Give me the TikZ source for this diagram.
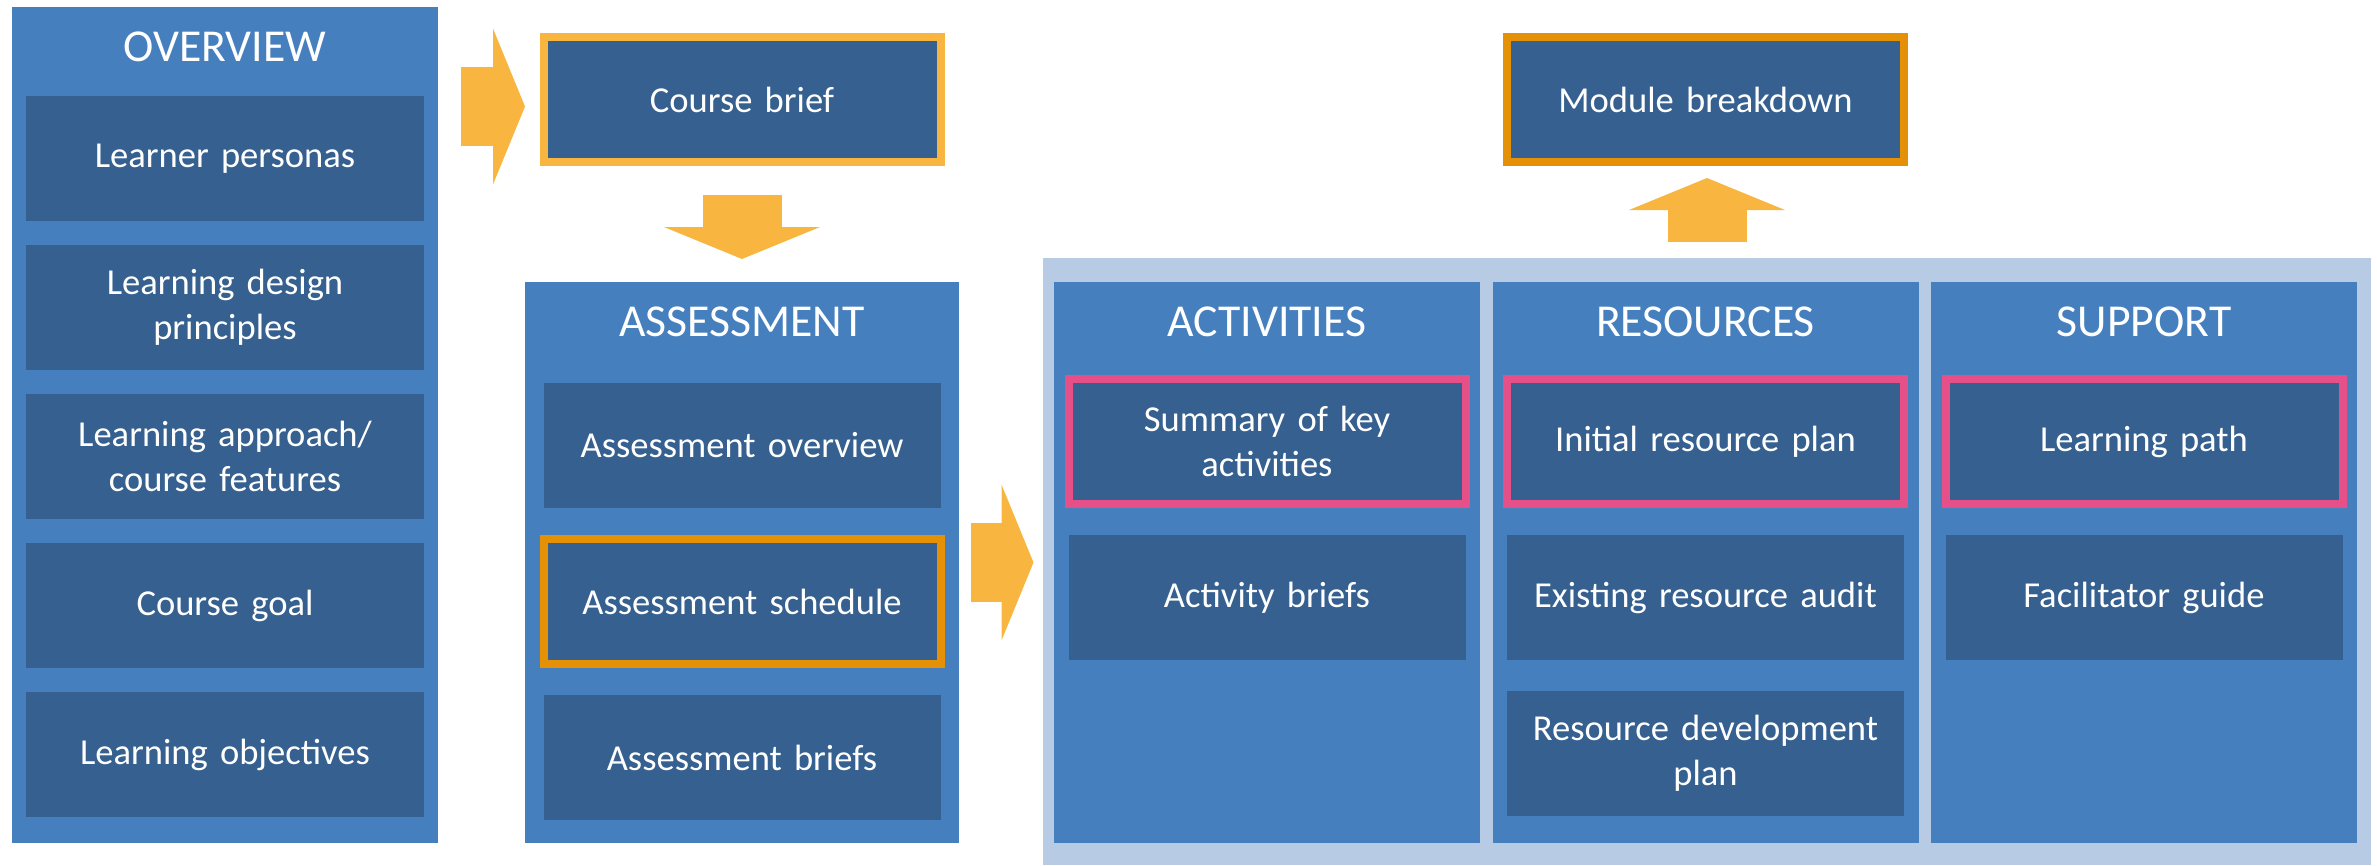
\documentclass[tikz,border=0pt]{standalone}
\usepackage{fontspec}
\setmainfont{Carlito}
\usetikzlibrary{positioning, arrows.meta, calc}
\definecolor{groupblue}{RGB}{70,127,190}
\definecolor{itemblue}{RGB}{53,96,143}
\definecolor{paleblue}{RGB}{183,204,228}
\definecolor{amber}{RGB}{248,182,64}
\definecolor{darkamber}{RGB}{229,145,8}
\definecolor{rosepink}{RGB}{230,80,137}

\begin{document}
\begin{tikzpicture}[
  node distance=0.31cm,
  every node/.style={text=white, outer sep=0pt},
  group/.style={rectangle, fill=groupblue, minimum width=4.26cm, minimum height=5.61cm, anchor=north west},
  heading/.style={font=\fontsize{13}{15}\selectfont},
  item/.style={rectangle, fill=itemblue, minimum width=3.97cm, minimum height=1.25cm, text width=3.6cm, align=center, font=\fontsize{10.4}{12.8}\selectfont},
  keyitem/.style={item, draw=rosepink, line width=0.08cm},
  flagitem/.style={item, draw=darkamber, line width=0.08cm},
  briefitem/.style={item, draw=amber, line width=0.08cm},
  blockarrow/.style={draw=amber, line width=0.79cm, -{Triangle[width=1.56cm, length=0.32cm, line width=0pt]}}
]
\useasboundingbox (0,0) rectangle (23.77,-8.65);

% overview column
\node[group, minimum height=8.36cm] (ov) at (0.12,-0.07) {};
\node[item, below=0.89cm of ov.north] (persona) {Learner personas};
\node[item, below=0.24cm of persona] (principle) {Learning design\\principles};
\node[item, below=0.24cm of principle] (approach) {Learning approach/\\course features};
\node[item, below=0.24cm of approach] (goal) {Course goal};
\node[item, below=0.24cm of goal] (objective) {Learning objectives};

% assessment column
\node[group, minimum width=4.34cm] (as) at (5.25,-2.82) {};
\node[briefitem, above=1.20cm of as.north] (brief) {Course brief};
\node[item, below=1.01cm of as.north] (asov) {Assessment overview};
\node[flagitem, below=of asov] (assched) {Assessment schedule};
\node[item, below=of assched] (asbrief) {Assessment briefs};

% build area
\node[rectangle, fill=paleblue, minimum width=13.28cm, minimum height=6.07cm, anchor=north west] (build) at (10.43,-2.58) {};
\node[group] (act) at (10.54,-2.82) {};
\node[group, right=0.125cm of act] (res) {};
\node[group, right=0.125cm of res] (sup) {};
\node[flagitem, above=1.20cm of res.north] (modules) {Module breakdown};

\foreach \col/\name in {ov/OVERVIEW, as/ASSESSMENT, act/ACTIVITIES, res/RESOURCES, sup/SUPPORT}
  \node[heading] (\col-title) at ([yshift=-0.395cm]\col.north) {\name};

\node[keyitem, below=0.97cm of act.north] (keyact) {Summary of key\\activities};
\node[item, below=of keyact] (actbrief) {Activity briefs};
\node[keyitem, below=0.97cm of res.north] (resplan) {Initial resource plan};
\node[item, below=of resplan] (resaudit) {Existing resource audit};
\node[item, below=of resaudit] (resdev) {Resource development\\plan};
\node[keyitem, below=0.97cm of sup.north] (lpath) {Learning path};
\node[item, below=of lpath] (guide) {Facilitator guide};

% flow arrows
\draw[blockarrow, shorten <=0.23cm, shorten >=0.185cm] ($(brief.west -| ov.east)+(0,-0.07)$) -- ($(brief.west)+(0,-0.07)$);
\draw[blockarrow, shorten <=0.33cm, shorten >=0.23cm] (brief.south) -- (brief.south |- as.north);
\draw[blockarrow, shorten <=0.115cm, shorten >=0.095cm] (as.east) -- (as.east -| build.west);
\draw[blockarrow, shorten <=0.16cm, shorten >=0.16cm] (build.north) -- (build.north |- modules.south);

\end{tikzpicture}
\end{document}
